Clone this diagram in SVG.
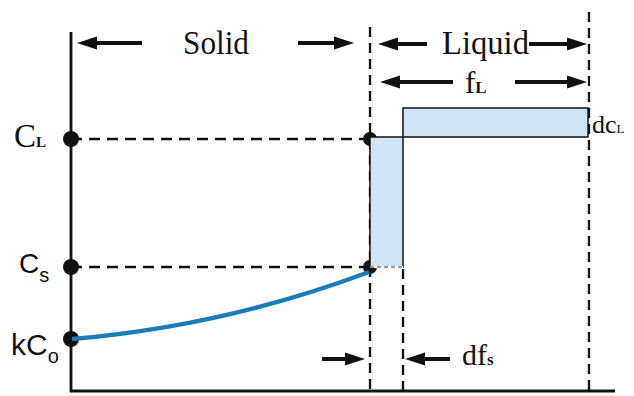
<svg xmlns="http://www.w3.org/2000/svg" width="634" height="396" viewBox="0 0 634 396">
<style>
.ax{stroke:#111;stroke-width:2.8;fill:none}
.dh{stroke:#111;stroke-width:2.3;stroke-dasharray:11,7;fill:none}
.dv{stroke:#111;stroke-width:2.3;stroke-dasharray:10,6;fill:none}
.ar{stroke:#111;stroke-width:4;fill:none}
.box{fill:#cfe5f5;stroke:#111;stroke-width:1.5}
.serif{font-family:"Liberation Serif","Times New Roman",serif;fill:#111}
.sans{font-family:"Liberation Sans",Arial,sans-serif;fill:#111}
.dot{fill:#111}
</style>
<defs>
<marker id="ah" viewBox="0 0 20 14" refX="14" refY="7" markerWidth="5" markerHeight="3.5" orient="auto-start-reverse" markerUnits="strokeWidth">
<path d="M0,0.5 L20,7 L0,13.5 z" fill="#111"/>
</marker>
</defs>
<g id="axes">
<line class="ax" x1="71" y1="32" x2="71" y2="392"/>
<line class="ax" x1="70" y1="391" x2="615" y2="391"/>
</g>
<g id="connectors">
<line class="dh" x1="71" y1="139" x2="370" y2="139"/>
<line class="dh" x1="71" y1="267" x2="370" y2="267"/>
<line class="dv" x1="370" y1="27" x2="370" y2="391"/>
<line class="dv" x1="403" y1="269" x2="403" y2="391"/>
<line class="dv" x1="589" y1="12" x2="589" y2="391"/>
<line class="ar" x1="142" y1="43" x2="83" y2="43" marker-end="url(#ah)"/>
<line class="ar" x1="298" y1="43" x2="348" y2="43" marker-end="url(#ah)"/>
<line class="ar" x1="427" y1="44" x2="384" y2="44" marker-end="url(#ah)"/>
<line class="ar" x1="529" y1="44" x2="581" y2="44" marker-end="url(#ah)"/>
<line class="ar" x1="453" y1="82" x2="386" y2="82" marker-end="url(#ah)"/>
<line class="ar" x1="515" y1="82" x2="581" y2="82" marker-end="url(#ah)"/>
<line class="ar" x1="322" y1="359" x2="359" y2="359" marker-end="url(#ah)"/>
<line class="ar" x1="450" y1="359" x2="411" y2="359" marker-end="url(#ah)"/>
</g>
<g id="dots">
<circle class="dot" cx="71" cy="139" r="8"/>
<circle class="dot" cx="71" cy="267" r="8"/>
<circle class="dot" cx="71" cy="339" r="8"/>
<circle class="dot" cx="370" cy="139" r="7"/>
<circle class="dot" cx="370" cy="267" r="7"/>
</g>
<g id="curve">
<path d="M72,339 Q225,326 369,272" stroke="#1b7db8" stroke-width="4.5" fill="none"/>
</g>
<g id="boxes">
<rect class="box" x="370" y="137" width="33" height="130"/>
<line x1="370" y1="267" x2="403" y2="267" stroke="#fff" stroke-width="2"/>
<line x1="370" y1="267" x2="403" y2="267" stroke="#333" stroke-width="1.2" stroke-dasharray="4,3"/>
<rect class="box" x="403" y="108" width="185" height="29"/>
</g>
<g id="labels">
<text class="serif" x="183" y="54" font-size="34" textLength="66" lengthAdjust="spacingAndGlyphs">Solid</text>
<text class="serif" x="442" y="54" font-size="34" textLength="87" lengthAdjust="spacingAndGlyphs">Liquid</text>
<text class="serif" x="465" y="93" font-size="31">f<tspan font-size="17" font-weight="bold">L</tspan></text>
<text class="serif" x="592" y="133" font-size="26">dc<tspan font-size="13">L</tspan></text>
<text class="serif" x="462" y="365" font-size="30">df<tspan font-size="17" font-weight="bold">s</tspan></text>
<text class="serif" x="14" y="147" font-size="33">C<tspan font-size="15" font-weight="bold">L</tspan></text>
<text class="sans" x="19" y="273" font-size="28">C<tspan font-size="20" dy="9">s</tspan></text>
<text class="sans" x="11" y="355" font-size="30">kC<tspan font-size="20" dy="8">o</tspan></text>
</g>
</svg>
